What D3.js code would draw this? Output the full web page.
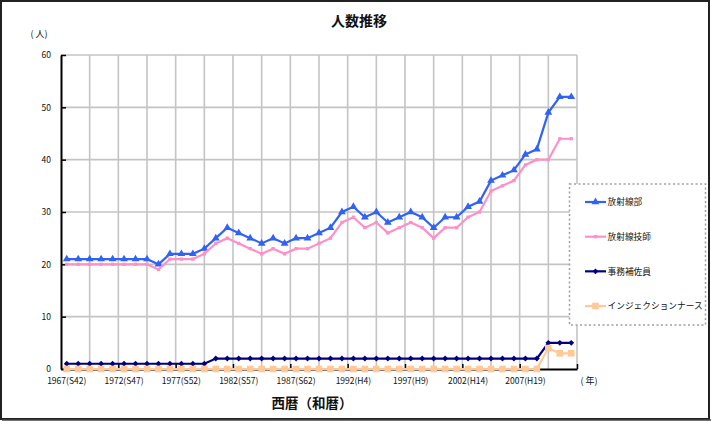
<!DOCTYPE html>
<html><head><meta charset="utf-8">
<script src="https://cdn.jsdelivr.net/npm/d3@7"></script>
<style>
body{margin:0;background:#fff;}
text{font-family:"Noto Sans CJK JP","Noto Sans",sans-serif;fill:#111;}
</style>
</head><body>
<svg id="c" width="711" height="421"></svg>
<script>
// ---- data ----
const years = [1967,1968,1969,1970,1971,1972,1973,1974,1975,1976,1977,1978,1979,1980,1981,1982,1983,1984,1985,1986,1987,1988,1989,1990,1991,1992,1993,1994,1995,1996,1997,1998,1999,2000,2001,2002,2003,2004,2005,2006,2007,2008,2009,2010,2011];
const radiologyDept = [21,21,21,21,21,21,21,21,20,22,22,22,23,25,27,26,25,24,25,24,25,25,26,27,30,31,29,30,28,29,30,29,27,29,29,31,32,36,37,38,41,42,49,52,52];
const radiologists  = [20,20,20,20,20,20,20,20,19,21,21,21,22,24,25,24,23,22,23,22,23,23,24,25,28,29,27,28,26,27,28,27,25,27,27,29,30,34,35,36,39,40,40,44,44];
const clerks        = [1,1,1,1,1,1,1,1,1,1,1,1,1,2,2,2,2,2,2,2,2,2,2,2,2,2,2,2,2,2,2,2,2,2,2,2,2,2,2,2,2,2,5,5,5];
const injNurses     = [0,0,0,0,0,0,0,0,0,0,0,0,0,0,0,0,0,0,0,0,0,0,0,0,0,0,0,0,0,0,0,0,0,0,0,0,0,0,0,0,0,0,4,3,3];
const seriesNames = ["放射線部","放射線技師","事務補佐員","インジェクションナース"];
const xLabelYears = [1967,1972,1977,1982,1987,1992,1997,2002,2007];
const xLabels = ["1967(S42)","1972(S47)","1977(S52)","1982(S57)","1987(S62)","1992(H4)","1997(H9)","2002(H14)","2007(H19)"];
const yTicks = [0,10,20,30,40,50,60];

// ---- layout ----
const svg = d3.select("#c");
const L = 61, R = 577, T = 55, B = 369;
const x = d3.scaleBand().domain(years).range([L, R]).padding(0);
const xi = d3.scaleLinear().domain([0, years.length]).range([L, R]);
const xc = yr => x(yr) + x.bandwidth()/2;
const y = d3.scaleLinear().domain([0, 60]).range([B, T]);

svg.append("rect").attr("width",711).attr("height",421).attr("fill","#fff");

// gridlines
const grid = svg.append("g").attr("stroke","#c4c4c4").attr("stroke-width",1.6);
grid.selectAll(".hg").data(yTicks.filter(d=>d>0)).join("line")
  .attr("x1",L).attr("x2",R).attr("y1",d=>y(d)).attr("y2",d=>y(d));
grid.selectAll(".vg").data(d3.range(2.5, years.length+0.01, 2.5)).join("line")
  .attr("x1",d=>xi(d)).attr("x2",d=>xi(d)).attr("y1",T).attr("y2",B);

// axes
const yAxis = svg.append("g").attr("transform",`translate(${L},0)`)
  .call(d3.axisLeft(y).tickValues(yTicks).tickSize(-5).tickSizeOuter(0).tickPadding(10));
yAxis.select(".domain").attr("stroke","#000").attr("stroke-width",2);
yAxis.selectAll(".tick line").attr("stroke","#000").attr("stroke-width",1.5);
yAxis.selectAll("text").attr("font-size",8.5).attr("font-family","'Liberation Sans',Arial,sans-serif").attr("fill","#111");

const xAxis = svg.append("g").attr("transform",`translate(0,${B})`)
  .call(d3.axisBottom(xi).tickValues(d3.range(5, years.length+0.01, 5)).tickSize(-5).tickSizeOuter(0).tickFormat(""));
xAxis.select(".domain").attr("stroke","#000").attr("stroke-width",2);
xAxis.selectAll(".tick line").attr("stroke","#000").attr("stroke-width",1.5);

svg.append("g").selectAll("text").data(xLabelYears).join("text")
  .attr("x",d=>xc(d)).attr("y",384).attr("text-anchor","middle")
  .attr("font-size",8.5).attr("font-family","'Liberation Sans',Arial,sans-serif")
  .text((d,i)=>xLabels[i]);

// titles
svg.append("text").attr("x",359).attr("y",26).attr("text-anchor","middle")
  .attr("font-size",14).attr("font-weight","bold").text("人数推移");
svg.append("text").attr("x",39).attr("y",37).attr("text-anchor","middle")
  .attr("font-size",9).text("(  人)");
svg.append("text").attr("x",589).attr("y",384).attr("text-anchor","middle")
  .attr("font-size",9).text("(  年)");
svg.append("text").attr("x",312).attr("y",408).attr("text-anchor","middle")
  .attr("font-size",13.5).attr("font-weight","bold").text("西暦（和暦）");

// series
const series = [
  {name:seriesNames[0], values:radiologyDept, color:"#2f62f5", sym:d3.symbolTriangle, size:26, rot:0},
  {name:seriesNames[1], values:radiologists,  color:"#ff8fc8", sym:d3.symbolSquare,   size:11, rot:0},
  {name:seriesNames[2], values:clerks,        color:"#000080", sym:d3.symbolSquare,   size:17, rot:45},
  {name:seriesNames[3], values:injNurses,     color:"#ffc896", sym:d3.symbolSquare,   size:44, rot:0}
];
const line = d3.line().x((d,i)=>xc(years[i])).y(d=>y(d));
series.forEach(s=>{
  const g = svg.append("g");
  g.append("path").attr("d",line(s.values)).attr("fill","none")
    .attr("stroke",s.color).attr("stroke-width",2.2);
  g.selectAll("path.m").data(s.values).join("path").attr("class","m")
    .attr("d",d3.symbol(s.sym, s.size)())
    .attr("transform",(d,i)=>`translate(${xc(years[i])},${y(d)}) rotate(${s.rot})`)
    .attr("fill",s.color);
});

// legend
const lg = svg.append("g");
lg.append("rect").attr("x",569.5).attr("y",184).attr("width",136).attr("height",141)
  .attr("fill","#fff").attr("stroke","#a0a0a0").attr("stroke-width",1.5).attr("stroke-dasharray","2,2.5");
const legendY = d3.scalePoint().domain(seriesNames).range([202, 306]);
series.forEach(s=>{
  const yy = legendY(s.name);
  lg.append("line").attr("x1",585).attr("x2",606).attr("y1",yy).attr("y2",yy)
    .attr("stroke",s.color).attr("stroke-width",2.2);
  lg.append("path").attr("d",d3.symbol(s.sym, s.size)())
    .attr("transform",`translate(595.5,${yy}) rotate(${s.rot})`).attr("fill",s.color);
  lg.append("text").attr("x",607.5).attr("y",yy+3.2).attr("font-size",8.7).text(s.name);
});

// outer frame
svg.append("rect").attr("x",1).attr("y",1).attr("width",708).attr("height",418)
  .attr("fill","none").attr("stroke","#222").attr("stroke-width",2);
svg.append("line").attr("x1",2).attr("x2",711).attr("y1",420).attr("y2",420).attr("stroke","#444").attr("stroke-width",1.5);
</script>
</body></html>
